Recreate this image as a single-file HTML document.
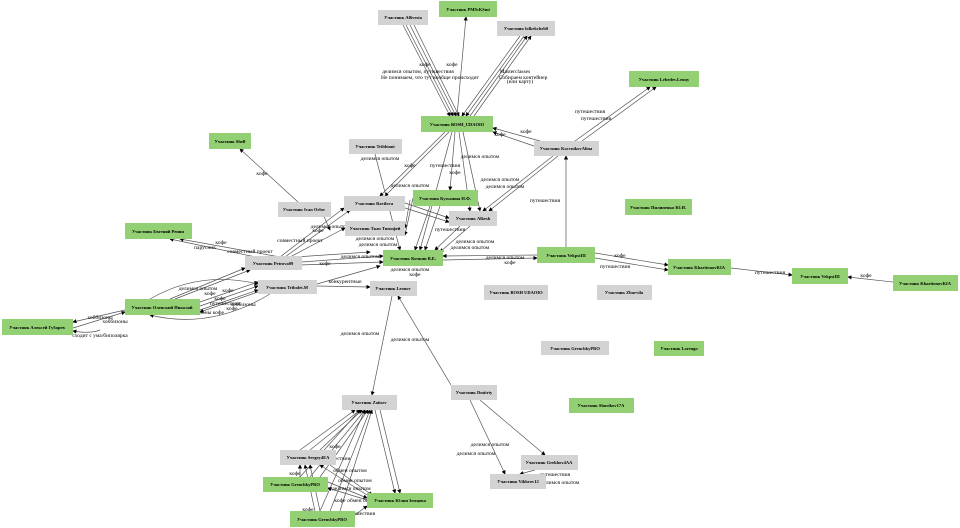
<!DOCTYPE html>
<html><head><meta charset="utf-8"><style>
html,body{margin:0;padding:0;background:#fff;}
svg{display:block}
text{font-family:"Liberation Serif",serif;font-size:5.5px;fill:#000}
.n text{font-size:4.5px;font-weight:bold}
</style></head><body>
<svg width="960" height="528" viewBox="0 0 960 528" xmlns="http://www.w3.org/2000/svg">
<defs><marker id="a" markerWidth="6" markerHeight="6" refX="5" refY="3" orient="auto"><path d="M0,0L6,3L0,6z" fill="#000"/></marker></defs>
<g stroke="#555" stroke-width="0.7" fill="none" marker-end="url(#a)">
<line x1="403" y1="25" x2="450" y2="116"/><line x1="406" y1="25" x2="453" y2="116"/><line x1="410" y1="25" x2="456" y2="116"/><line x1="414" y1="25" x2="459" y2="116"/>
<line x1="457" y1="116" x2="466" y2="17"/>
<line x1="520" y1="36" x2="462" y2="116"/><line x1="524" y1="36" x2="466" y2="116"/><line x1="470" y1="116" x2="527" y2="36"/><line x1="474" y1="116" x2="531" y2="36"/>
<line x1="540" y1="141" x2="493" y2="128"/><line x1="534" y1="146" x2="493" y2="132"/>
<line x1="575" y1="141" x2="650" y2="87"/><line x1="582" y1="141" x2="656" y2="87"/>
<line x1="553" y1="156" x2="483" y2="211"/><line x1="558" y1="156" x2="489" y2="211"/>
<line x1="566" y1="247" x2="566" y2="156"/>
<line x1="445" y1="132" x2="380" y2="196"/><line x1="449" y1="132" x2="385" y2="196"/><line x1="455" y1="132" x2="450" y2="190"/><line x1="459" y1="132" x2="470" y2="211"/><line x1="463" y1="132" x2="480" y2="211"/><line x1="452" y1="132" x2="420" y2="250"/>
<line x1="375" y1="154" x2="400" y2="250"/>
<line x1="298" y1="202" x2="240" y2="149"/>
<line x1="280" y1="257" x2="180" y2="239"/><line x1="270" y1="260" x2="170" y2="239"/>
<line x1="280" y1="257" x2="344" y2="208"/><line x1="285" y1="257" x2="350" y2="210"/><line x1="290" y1="257" x2="345" y2="228"/><line x1="295" y1="257" x2="370" y2="252"/><line x1="302" y1="262" x2="383" y2="256"/><line x1="300" y1="265" x2="383" y2="262"/><line x1="318" y1="203" x2="330" y2="230"/>
<line x1="405" y1="203" x2="449" y2="218"/><line x1="405" y1="208" x2="449" y2="222"/><line x1="410" y1="200" x2="405" y2="228"/><line x1="413" y1="198" x2="405" y2="235"/>
<line x1="430" y1="206" x2="415" y2="250"/><line x1="440" y1="206" x2="425" y2="250"/><line x1="460" y1="226" x2="435" y2="250"/><line x1="470" y1="226" x2="440" y2="252"/>
<line x1="537" y1="255" x2="443" y2="256"/><line x1="443" y1="260" x2="537" y2="258"/>
<line x1="595" y1="253" x2="668" y2="265"/><line x1="595" y1="258" x2="668" y2="270"/>
<line x1="731" y1="268" x2="792" y2="275"/><line x1="893" y1="282" x2="848" y2="277"/>
<line x1="200" y1="302" x2="258" y2="282"/><line x1="200" y1="306" x2="258" y2="286"/><line x1="200" y1="310" x2="258" y2="290"/><line x1="258" y1="292" x2="200" y2="312"/><line x1="170" y1="299" x2="245" y2="268"/><line x1="175" y1="299" x2="250" y2="270"/>
<path d="M150,299 Q200,270 258,284"/><path d="M270,294 Q210,330 150,315"/>
<line x1="125" y1="310" x2="73" y2="322"/><line x1="73" y1="328" x2="125" y2="312"/><path d="M100,330 Q90,334 73,331"/>
<line x1="317" y1="286" x2="370" y2="287"/><line x1="317" y1="284" x2="380" y2="266"/>
<line x1="392" y1="296" x2="372" y2="395"/><line x1="451" y1="385" x2="398" y2="296"/>
<line x1="470" y1="400" x2="505" y2="474"/><line x1="480" y1="400" x2="545" y2="455"/>
<line x1="535" y1="470" x2="520" y2="474"/>
<line x1="300" y1="450" x2="355" y2="410"/><line x1="310" y1="450" x2="360" y2="410"/><line x1="320" y1="450" x2="362" y2="410"/>
<line x1="300" y1="477" x2="360" y2="410"/><line x1="310" y1="477" x2="365" y2="410"/><line x1="320" y1="477" x2="368" y2="410"/>
<line x1="320" y1="511" x2="365" y2="410"/><line x1="330" y1="511" x2="370" y2="410"/><line x1="340" y1="511" x2="372" y2="410"/>
<line x1="320" y1="511" x2="310" y2="465"/><line x1="315" y1="511" x2="305" y2="465"/>
<line x1="375" y1="410" x2="395" y2="493"/><line x1="380" y1="410" x2="400" y2="493"/>
<line x1="367" y1="495" x2="320" y2="465"/><line x1="367" y1="500" x2="328" y2="488"/><line x1="328" y1="482" x2="367" y2="498"/>
<line x1="330" y1="465" x2="372" y2="495"/><line x1="355" y1="515" x2="367" y2="506"/><line x1="300" y1="478" x2="300" y2="465"/>
</g>
<g text-anchor="middle">
<text x="425" y="66">кофе</text><text x="452" y="66">кофе</text>
<text x="418" y="73">делимся опытом, путешествия</text>
<text x="430" y="79">Не понимаем, что тут вообще происходит</text>
<text x="515" y="73">Masterclasses</text><text x="523" y="79">Собираем контейнер</text><text x="520" y="83">(или карту)</text>
<text x="590" y="113">путешествия</text><text x="596" y="120">путешествия</text>
<text x="526" y="133">кофе</text><text x="500" y="136">кофе</text>
<text x="380" y="160">делимся опытом</text><text x="410" y="167">кофе</text><text x="445" y="167">путешествия</text>
<text x="480" y="158">делимся опытом</text><text x="455" y="174">кофе</text>
<text x="500" y="181">делимся опытом</text><text x="505" y="188">делимся опытом</text>
<text x="410" y="187">делимся опытом</text><text x="545" y="202">путешествия</text>
<text x="262" y="175">кофе</text><text x="221" y="244">кофе</text><text x="205" y="249">парусник</text>
<text x="250" y="253">совместный проект</text><text x="300" y="242">совместный проект</text>
<text x="318" y="232">кофе</text><text x="330" y="228">делимся опытом</text>
<text x="375" y="240">делимся опытом</text><text x="378" y="246">делимся опытом</text><text x="360" y="258">делимся опытом</text>
<text x="450" y="231">путешествия</text><text x="475" y="243">делимся опытом</text><text x="470" y="249">делимся опытом</text>
<text x="505" y="259">делимся опытом</text><text x="510" y="264">кофе</text>
<text x="620" y="257">кофе</text><text x="615" y="268">путешествия</text>
<text x="770" y="274">путешествия</text><text x="866" y="277">кофе</text>
<text x="325" y="265">кофе</text><text x="410" y="271">делимся опытом</text><text x="415" y="276">кофе</text>
<text x="345" y="283">конкурентные</text>
<text x="198" y="290">делимся опытом</text><text x="228" y="292">кофе</text><text x="210" y="295">кофе</text><text x="220" y="300">кофе</text><text x="225" y="305">путешествия</text><text x="232" y="310">кофе</text><text x="243" y="306">хоббизоны</text><text x="205" y="314">хоббизоны кофе</text>
<text x="100" y="319">хоббизоны</text><text x="115" y="323">хоббизоны</text><text x="100" y="337">сходит с ума/биполярка</text>
<text x="360" y="335">делимся опытом</text><text x="410" y="341">делимся опытом</text>
<text x="490" y="446">делимся опытом</text><text x="476" y="455">делимся опытом</text>
<text x="512" y="479">кофе</text><text x="555" y="476">путешествия</text><text x="560" y="484">делимся опытом</text>
<text x="335" y="448">кофе</text><text x="310" y="464">путешествия</text><text x="335" y="460">путешествия</text>
<text x="350" y="472">обмен опытом</text><text x="355" y="482">обмен опытом</text><text x="345" y="490">кофе делимся опытом</text>
<text x="364" y="502">обмен опытом</text><text x="295" y="475">кофе</text><text x="340" y="502">кофе</text>
<text x="360" y="515">путешествия</text><text x="308" y="511">кофе</text><text x="345" y="524">кофе</text>
</g>
<g class="n" text-anchor="middle">
<rect x="378" y="10" width="50" height="15" fill="#d3d3d3"/><text x="403" y="19">Участник Al6vesta</text>
<rect x="439" y="1" width="58" height="16" fill="#92d073"/><text x="468" y="11">Участник PM9cKSmi</text>
<rect x="497" y="21" width="58" height="15" fill="#d3d3d3"/><text x="526" y="30">Участник lolkekcheb0</text>
<rect x="629" y="71" width="70" height="16" fill="#92d073"/><text x="664" y="81">Участник Lebedev.Lenny</text>
<rect x="421" y="116" width="72" height="16" fill="#92d073"/><text x="457" y="126">Участник BOSH_UDAOIO</text>
<rect x="349" y="139" width="53" height="15" fill="#d3d3d3"/><text x="375" y="148">Участник Tribbiani</text>
<rect x="209" y="133" width="42" height="16" fill="#92d073"/><text x="230" y="143">Участник Shell</text>
<rect x="534" y="141" width="65" height="15" fill="#d3d3d3"/><text x="566" y="150">Участник KocvnikovAlina</text>
<rect x="278" y="202" width="53" height="15" fill="#d3d3d3"/><text x="304" y="211">Участник Ivan Orlov</text>
<rect x="344" y="196" width="61" height="15" fill="#d3d3d3"/><text x="374" y="205">Участник Ravilova</text>
<rect x="413" y="190" width="65" height="16" fill="#92d073"/><text x="445" y="200">Участник Кузьмина Н.Ф.</text>
<rect x="449" y="211" width="48" height="15" fill="#d3d3d3"/><text x="473" y="220">Участник Alkesh</text>
<rect x="625" y="199" width="67" height="16" fill="#92d073"/><text x="658" y="209">Участник Пилипенко Ю.Н.</text>
<rect x="125" y="223" width="67" height="16" fill="#92d073"/><text x="158" y="233">Участник Евгений Репин</text>
<rect x="345" y="221" width="60" height="15" fill="#d3d3d3"/><text x="375" y="230">Участник Ткач Тимофей</text>
<rect x="245" y="256" width="57" height="14" fill="#d3d3d3"/><text x="273" y="265">Участник Petrova09</text>
<rect x="383" y="250" width="60" height="16" fill="#92d073"/><text x="413" y="260">Участник Кочкин В.Е.</text>
<rect x="537" y="247" width="58" height="16" fill="#92d073"/><text x="566" y="257">Участник VekpstIII</text>
<rect x="668" y="259" width="63" height="16" fill="#92d073"/><text x="699" y="269">Участник KharitonovKIA</text>
<rect x="792" y="268" width="56" height="16" fill="#92d073"/><text x="820" y="278">Участник VekpstIII</text>
<rect x="893" y="275" width="65" height="16" fill="#92d073"/><text x="925" y="285">Участник KharitonovKIA</text>
<rect x="258" y="280" width="59" height="14" fill="#d3d3d3"/><text x="287" y="289">Участник Tribolet.M</text>
<rect x="125" y="299" width="75" height="16" fill="#92d073"/><text x="162" y="309">Участник Оленский Николай</text>
<rect x="2" y="319" width="71" height="16" fill="#92d073"/><text x="37" y="329">Участник Алексей Губарев</text>
<rect x="370" y="281" width="47" height="15" fill="#d3d3d3"/><text x="393" y="290">Участник Leonov</text>
<rect x="484" y="285" width="64" height="15" fill="#d3d3d3"/><text x="516" y="294">Участник BOSH UDAOIO</text>
<rect x="597" y="285" width="55" height="15" fill="#d3d3d3"/><text x="624" y="294">Участник Zhurvila</text>
<rect x="541" y="341" width="68" height="14" fill="#d3d3d3"/><text x="575" y="350">Участник GrenchkyPRO</text>
<rect x="654" y="341" width="50" height="15" fill="#92d073"/><text x="679" y="350">Участник Lorengo</text>
<rect x="569" y="398" width="65" height="15" fill="#92d073"/><text x="601" y="407">Участник Shurikov17A</text>
<rect x="342" y="395" width="55" height="15" fill="#d3d3d3"/><text x="369" y="404">Участник Zaitsev</text>
<rect x="451" y="385" width="46" height="15" fill="#d3d3d3"/><text x="474" y="394">Участник Dmitriy</text>
<rect x="280" y="450" width="56" height="15" fill="#d3d3d3"/><text x="308" y="459">Участник Sergey4EA</text>
<rect x="521" y="455" width="57" height="15" fill="#d3d3d3"/><text x="549" y="464">Участник Grekhov4AA</text>
<rect x="490" y="474" width="56" height="15" fill="#d3d3d3"/><text x="518" y="483">Участник Vikhrov12</text>
<rect x="263" y="477" width="65" height="15" fill="#92d073"/><text x="295" y="486">Участник GrenchkyPRO</text>
<rect x="367" y="493" width="66" height="15" fill="#92d073"/><text x="400" y="502">Участник Юлия Земцова</text>
<rect x="290" y="511" width="65" height="16" fill="#92d073"/><text x="322" y="521">Участник GrenchkyPRO</text>
</g>
</svg>
</body></html>
